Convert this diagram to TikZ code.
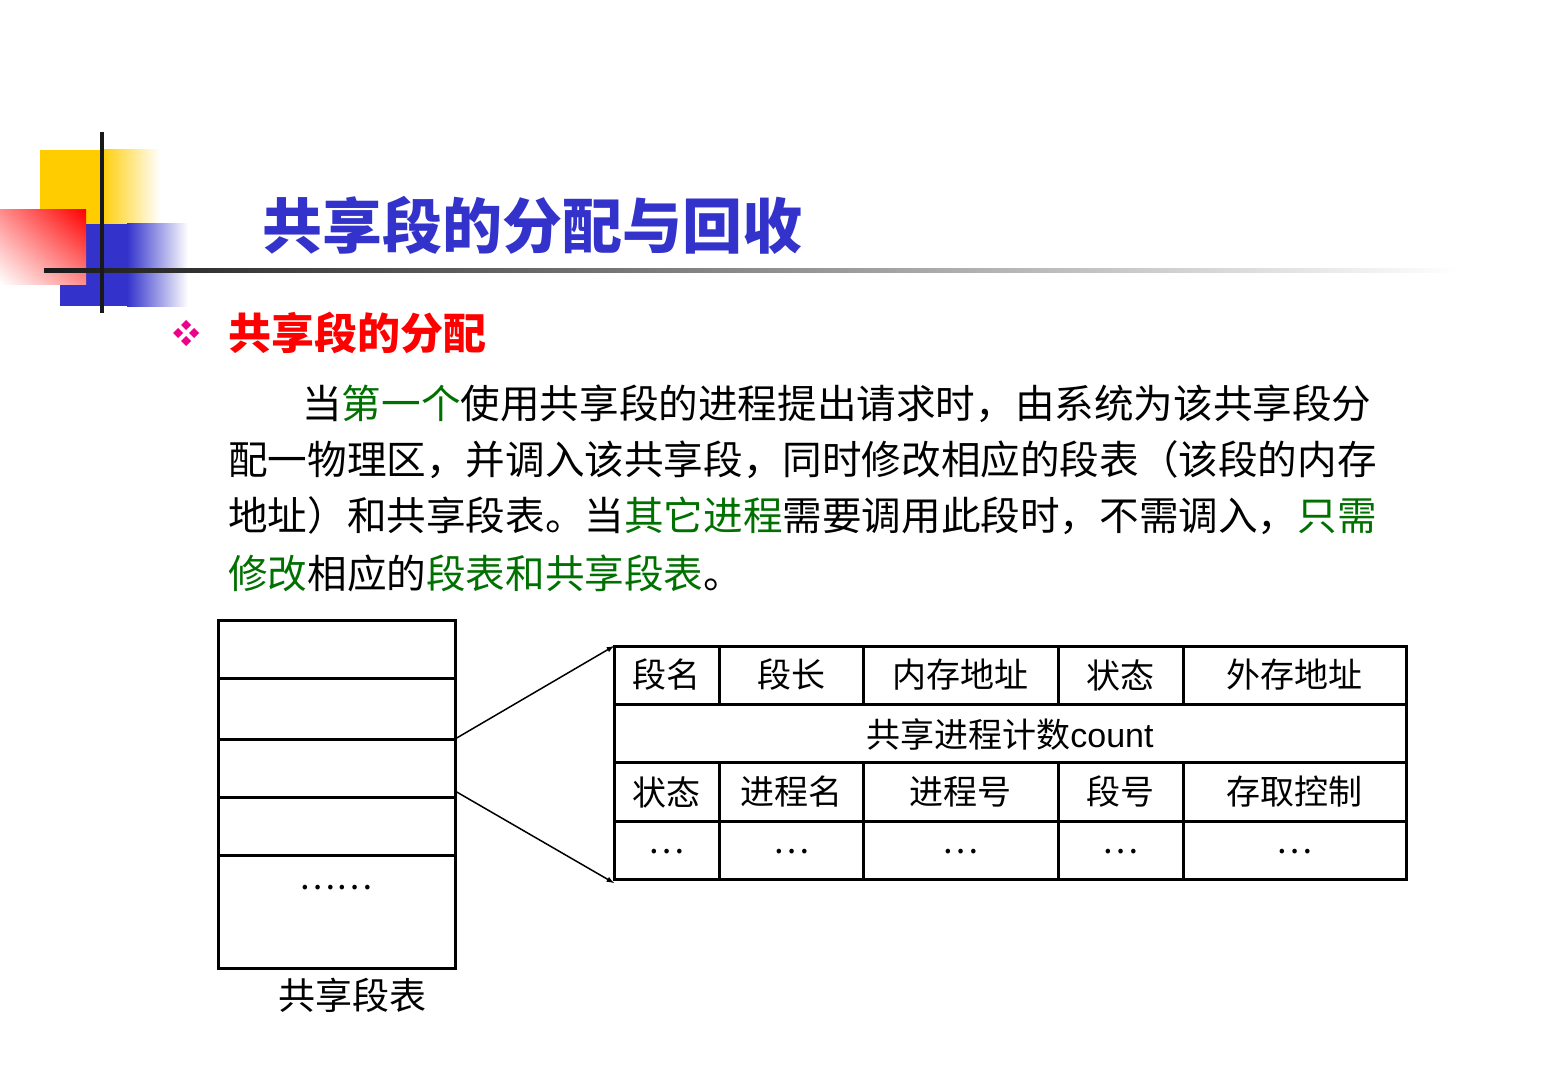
\documentclass[tikz,border=0pt]{standalone}
\usepackage{fontspec}
\usetikzlibrary{shadings}
\setmainfont{Noto Sans CJK SC}
\newfontfamily\latinsans{Liberation Sans}
\definecolor{tblue}{HTML}{3333CC}
\definecolor{tgreen}{HTML}{007000}
\definecolor{tyellow}{HTML}{FFCC00}
\begin{document}
\begin{tikzpicture}[x=1pt,y=-1pt,
  body/.style={anchor=west,inner sep=0,font=\fontsize{39.6}{39.6}\selectfont},
  cell/.style={inner sep=0,font=\fontsize{34}{34}\selectfont},
  tl/.style={line width=3pt},
  arr/.style={line width=1.5pt,-latex}]
\useasboundingbox (0,0) rectangle (1548,1086);
% logo
\fill[tyellow] (40,150) rectangle (100,224);
\shade[left color=tyellow,right color=white] (100,150) rectangle (160,224);
\fill[tblue] (60,224) rectangle (127,306);
\shade[left color=tblue,right color=white] (127,224) rectangle (188,306);
\shade[upper right=red,lower left=white,upper left=red!45,lower right=red!45] (0,210) rectangle (86,284);
\shade[left color=black!90,right color=white] (44,269) rectangle (1460,273);
\fill[black!90] (100,132) rectangle (104,313);
% title
\node[anchor=west,inner sep=0,text=tblue,font=\fontsize{60}{60}\selectfont\bfseries] (title) at (262,225) {共享段的分配与回收};
% bullet
\foreach \dx/\dy in {0/-8,0/8,-8/0,8/0}
  \fill[magenta] (186+\dx,333+\dy) +(0,-5) -- +(5,0) -- +(0,5) -- +(-5,0) -- cycle;
\node[anchor=west,inner sep=0,text=red,font=\fontsize{43}{43}\selectfont\bfseries] (sub) at (228,333) {共享段的分配};
% body
\node[body] (l1) at (302,404) {当\textcolor{tgreen}{第一个}使用共享段的进程提出请求时，由系统为该共享段分};
\node[body] (l2) at (228,460) {配一物理区，并调入该共享段，同时修改相应的段表（该段的内存};
\node[body] (l3) at (228,516) {地址）和共享段表。当\textcolor{tgreen}{其它进程}需要调用此段时，不需调入，\textcolor{tgreen}{只需}};
\node[body] (l4) at (228,573) {\textcolor{tgreen}{修改}相应的\textcolor{tgreen}{段表和共享段表}。};
% left table
\draw[tl] (218,620) rectangle (455,968);
\foreach \y in {678,739,797,855} \draw[tl] (218,\y) -- (455,\y);
\node[cell] (ld) at (336,888) {……};
\node[inner sep=0,font=\fontsize{37}{37}\selectfont] (cap) at (352,995) {共享段表};
% right table
\draw[tl] (614,646) rectangle (1406,879);
\foreach \y in {704,762,821} \draw[tl] (614,\y) -- (1406,\y);
\foreach \x in {719,863,1058,1183} {\draw[tl] (\x,646) -- (\x,704); \draw[tl] (\x,762) -- (\x,879);}
\coordinate (ta) at (614,646); \coordinate (tb) at (614,883);
\coordinate (sa) at (455,739); \coordinate (sb) at (455,791);
\draw[arr] (sa) -- (ta);
\draw[arr] (sb) -- (tb);
\node[cell] at (666,675) {段名};
\node[cell] at (791,675) {段长};
\node[cell] at (960,675) {内存地址};
\node[cell] at (1120,675) {状态};
\node[cell] at (1294,675) {外存地址};
\node[cell] at (1010,735) {共享进程计数{\latinsans count}};
\node[cell] at (666,792) {状态};
\node[cell] at (791,792) {进程名};
\node[cell] at (960,792) {进程号};
\node[cell] at (1120,792) {段号};
\node[cell] at (1294,792) {存取控制};
\foreach \x in {666,791,960,1120,1294} \node[cell] at (\x,852) {…};
\end{tikzpicture}
\end{document}
